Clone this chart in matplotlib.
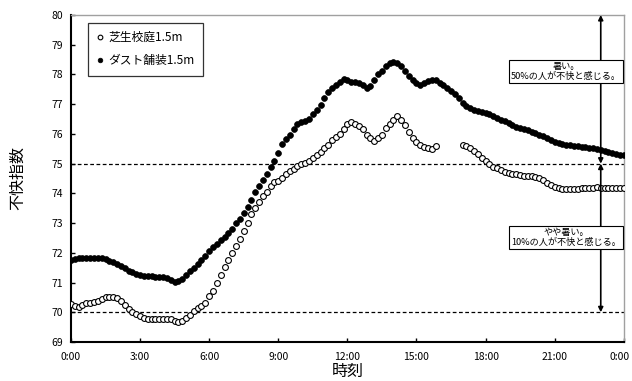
import numpy as np
import matplotlib
matplotlib.use("Agg")
import matplotlib.pyplot as plt
import matplotlib.transforms as mtransforms

plt.rcParams['font.family'] = ['Noto Sans CJK JP', 'DejaVu Sans']

# 10-minute readings, 0:00 .. 24:00 (145 points)
dust = [
    71.75, 71.78, 71.82, 71.84, 71.84, 71.83,
    71.83, 71.82, 71.81, 71.78, 71.74, 71.68,
    71.62, 71.55, 71.48, 71.40, 71.35, 71.30,
    71.26, 71.23, 71.22, 71.21, 71.20, 71.20,
    71.18, 71.14, 71.08, 71.03, 71.04, 71.12,
    71.25, 71.38, 71.50, 71.63, 71.76, 71.90,
    72.05, 72.18, 72.30, 72.42, 72.53, 72.68,
    72.80, 73.00, 73.15, 73.35, 73.55, 73.78,
    74.05, 74.25, 74.45, 74.65, 74.90, 75.10,
    75.35, 75.65, 75.82, 75.98, 76.15, 76.32,
    76.40, 76.44, 76.50, 76.66, 76.82, 76.98,
    77.20, 77.40, 77.55, 77.65, 77.74, 77.84,
    77.80, 77.76, 77.74, 77.70, 77.66, 77.55,
    77.62, 77.80, 78.00, 78.12, 78.28, 78.40,
    78.42, 78.38, 78.30, 78.12, 77.95, 77.82,
    77.72, 77.66, 77.70, 77.78, 77.80, 77.80,
    77.72, 77.64, 77.55, 77.45, 77.35, 77.20,
    77.05, 76.95, 76.88, 76.82, 76.78, 76.74,
    76.70, 76.66, 76.60, 76.54, 76.48, 76.42,
    76.36, 76.30, 76.24, 76.20, 76.15, 76.12,
    76.08, 76.02, 75.97, 75.92, 75.86, 75.80,
    75.74, 75.70, 75.66, 75.64, 75.62, 75.60,
    75.58, 75.57, 75.56, 75.54, 75.52, 75.50,
    75.46, 75.42, 75.38, 75.35, 75.32, 75.30,
    75.28,
]

nan = float('nan')
grass = [
    70.28, 70.22, 70.18, 70.26, 70.30, 70.32,
    70.34, 70.38, 70.44, 70.50, 70.52, 70.52,
    70.48, 70.38, 70.25, 70.12, 70.02, 69.94,
    69.88, 69.82, 69.78, 69.76, 69.78, 69.78,
    69.78, 69.78, 69.76, 69.72, 69.68, 69.70,
    69.80, 69.92, 70.05, 70.15, 70.22, 70.30,
    70.55, 70.72, 71.00, 71.27, 71.52, 71.76,
    72.00, 72.22, 72.45, 72.75, 73.00, 73.30,
    73.52, 73.72, 73.90, 74.05, 74.25, 74.38,
    74.42, 74.52, 74.64, 74.76, 74.82, 74.92,
    75.00, 75.03, 75.10, 75.20, 75.30, 75.38,
    75.52, 75.64, 75.78, 75.90, 76.00, 76.18,
    76.35, 76.40, 76.32, 76.26, 76.15, 75.98,
    75.85, 75.76, 75.85, 75.98, 76.20, 76.35,
    76.48, 76.60, 76.48, 76.30, 76.05, 75.85,
    75.72, 75.64, 75.57, 75.52, 75.50, 75.58,
    nan, nan, nan, nan, nan, nan,
    75.64, 75.58, 75.52, 75.44, 75.32, 75.20,
    75.08, 74.98, 74.90, 74.84, 74.78, 74.72,
    74.68, 74.66, 74.64, 74.62, 74.60, 74.58,
    74.57, 74.55, 74.50, 74.44, 74.36, 74.28,
    74.22, 74.18, 74.15, 74.14, 74.14, 74.15,
    74.16, 74.17, 74.18, 74.18, 74.19, 74.20,
    74.19, 74.18, 74.18, 74.18, 74.17, 74.17,
    74.17,
]

hours = np.arange(len(dust)) / 6.0
tick_hours = [0, 3, 6, 9, 12, 15, 18, 21, 24]
tick_labels = ["0:00", "3:00", "6:00", "9:00", "12:00", "15:00", "18:00", "21:00", "0:00"]
thresholds = [75, 70]

fig = plt.figure(figsize=(6.32, 3.81), dpi=100)
ax = fig.add_axes([0.1123, 0.1024, 0.8747, 0.8582])

ax.plot(hours, grass, linestyle='none', marker='o', markersize=4.2,
        markerfacecolor='white', markeredgecolor='black', markeredgewidth=0.8,
        label='芝生校庭1.5m', zorder=3)
ax.plot(hours, dust, linestyle='none', marker='o', markersize=4.2,
        markerfacecolor='black', markeredgecolor='black', markeredgewidth=0.5,
        label='ダスト舗装1.5m', zorder=3)

for t in thresholds:
    ax.axhline(t, color='black', linestyle=(0, (3, 2)), linewidth=0.9, zorder=2)

# range arrows at 23:00
ax.annotate('', xy=(23, 80), xytext=(23, 75),
            arrowprops=dict(arrowstyle='<|-|>', color='black', lw=1.2,
                            mutation_scale=7, shrinkA=0, shrinkB=0), zorder=4)
ax.annotate('', xy=(23, 75), xytext=(23, 70),
            arrowprops=dict(arrowstyle='<|-|>', color='black', lw=1.2,
                            mutation_scale=7, shrinkA=0, shrinkB=0), zorder=4)

box = dict(boxstyle='square,pad=0.25', facecolor='white', edgecolor='black', linewidth=0.8)
ax.text(21.5, 78.1, '暑い。\n50%の人が不快と感じる。', ha='center', va='center',
        fontsize=6.6, linespacing=1.1, bbox=box, zorder=5)
ax.text(21.5, 72.52, 'やや暑い。\n10%の人が不快と感じる。', ha='center', va='center',
        fontsize=6.6, linespacing=1.1, bbox=box, zorder=5)

ax.set_xlim(0, 24)
ax.set_ylim(69, 80)
ax.set_xticks(tick_hours)
ax.set_xticklabels(tick_labels)
ax.set_yticks(range(69, 81))
ax.tick_params(direction='in', length=3, width=1, labelsize=7.5)
ax.tick_params(axis='x', pad=7)
ax.tick_params(axis='y', pad=6)

# keep the last "0:00" inside the figure
last = ax.get_xticklabels()[-1]
last.set_transform(last.get_transform() +
                   mtransforms.ScaledTranslation(-4 / 100, 0, fig.dpi_scale_trans))

for side in ['left', 'bottom']:
    ax.spines[side].set_linewidth(1.5)
    ax.spines[side].set_color('black')
for side in ['top', 'right']:
    ax.spines[side].set_linewidth(1.0)
    ax.spines[side].set_color('#a0a0a0')

ax.set_xlabel('時刻', fontsize=11.5, labelpad=1)
ax.set_ylabel('不快指数', fontsize=11.5, labelpad=18)

leg = ax.legend(loc='upper left', bbox_to_anchor=(0.02, 0.995), fontsize=8.5,
                frameon=True, fancybox=False, edgecolor='black', handlelength=0.6,
                handletextpad=0.4, borderpad=0.7, labelspacing=0.9, markerscale=0.8)
leg.get_frame().set_linewidth(0.9)

fig.savefig('out.png', dpi=100)
